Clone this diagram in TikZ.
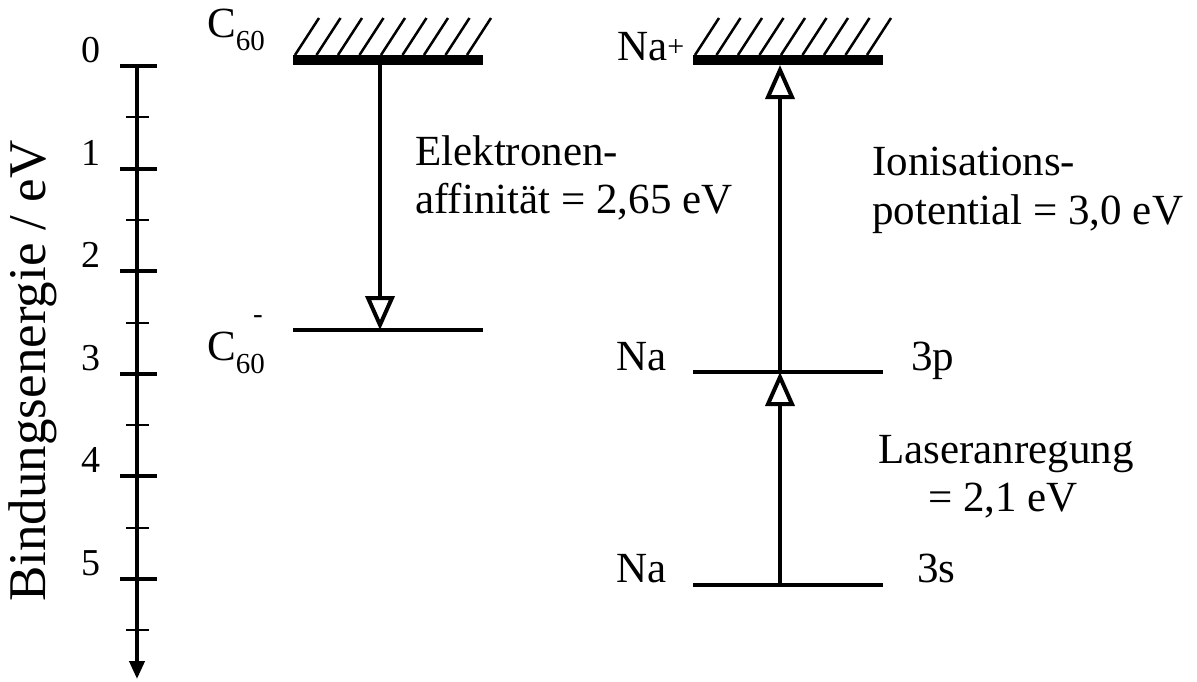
\documentclass[tikz,border=0pt]{standalone}
\usepackage{fontspec}
\setmainfont{Liberation Serif}
\usetikzlibrary{arrows.meta}
\newcommand\mysub[1]{\raisebox{-13pt}{\fontsize{29}{29}\selectfont #1}}
\tikzset{
  lbl/.style={font=\fontsize{43}{48}\selectfont, inner sep=0pt, anchor=base west},
  num/.style={font=\fontsize{38}{38}\selectfont, inner sep=0pt},
  lev/.style={line width=4pt},
  toplev/.style={line width=10pt},
  hatch/.style={line width=2.5pt},
  majtick/.style={line width=4pt},
  mintick/.style={line width=2pt},
  trans/.style={line width=4pt, -{Triangle[open, length=34pt, width=29pt]}},
}
\begin{document}
\begin{tikzpicture}[x=1pt,y=-1pt]
\useasboundingbox (0,0) rectangle (1197,681);
% axis
\coordinate (axtop) at (137,66);
\coordinate (axbot) at (137,679);
\draw[line width=4pt, -{Triangle[length=18pt,width=15pt]}] (axtop) -- (axbot);
\foreach \i in {0,...,5}{
  \draw[majtick] (120,{66+102.6*\i}) -- (157,{66+102.6*\i});
  \draw[mintick] (126,{117.3+102.6*\i}) -- (149,{117.3+102.6*\i});
  \node[num] (t\i) at (91,{50+102.6*\i}) {\i};
}
\node[font=\fontsize{53}{53}\selectfont, inner sep=0pt, rotate=90] (ylab) at (33,371) {Bindungsenergie / eV};
% C60 levels
\coordinate (c60L) at (293,60);
\coordinate (c60R) at (483,60);
\coordinate (c60mL) at (293,330);
\coordinate (c60mR) at (483,330);
\draw[toplev] (c60L) -- (c60R);
\foreach \k in {0,...,8} \draw[hatch] ({295+21.5*\k},55) -- ({319+21.5*\k},18);
\draw[lev] (c60mL) -- (c60mR);
\coordinate (c60a) at (380,60);
\coordinate (c60b) at (380,330);
\draw[trans] (c60a) -- (c60b);
% Na levels
\coordinate (naL) at (693,60);
\coordinate (naR) at (883,60);
\coordinate (pL) at (693,372);
\coordinate (pR) at (883,372);
\coordinate (sL) at (693,585);
\coordinate (sR) at (883,585);
\draw[toplev] (naL) -- (naR);
\foreach \k in {0,...,8} \draw[hatch] ({695+21.5*\k},55) -- ({719+21.5*\k},18);
\draw[lev] (pL) -- (pR);
\draw[lev] (sL) -- (sR);
\coordinate (na3s) at (780,585);
\coordinate (na3p) at (780,372);
\coordinate (naion) at (780,65);
\draw[trans] (na3s) -- (na3p);
\draw[trans] (na3p) -- (naion);
% labels
\node[lbl] (c60t) at (207,37) {C\mysub{60}};
\node[lbl] (c60m) at (207,360) {C\mysub{60}\llap{\raisebox{37pt}{\fontsize{29}{29}\selectfont -}\kern2pt}};
\node[lbl] (nap) at (617,60) {Na\raisebox{4pt}{\fontsize{30}{30}\selectfont +}};
\node[lbl] (na1) at (616,370) {Na};
\node[lbl] (na2) at (616,582) {Na};
\node[lbl] (l3p) at (911,370) {3p};
\node[lbl] (l3s) at (917,582) {3s};
\node[lbl] (ea1) at (415,165) {Elektronen-};
\node[lbl] (ea2) at (415,213) {affinität = 2,65 eV};
\node[lbl] (ip1) at (872,175) {Ionisations-};
\node[lbl] (ip2) at (872,224) {potential = 3,0 eV};
\node[lbl] (la1) at (878,463) {Laseranregung};
\node[lbl] (la2) at (928,511) {= 2,1 eV};
\end{tikzpicture}
\end{document}
